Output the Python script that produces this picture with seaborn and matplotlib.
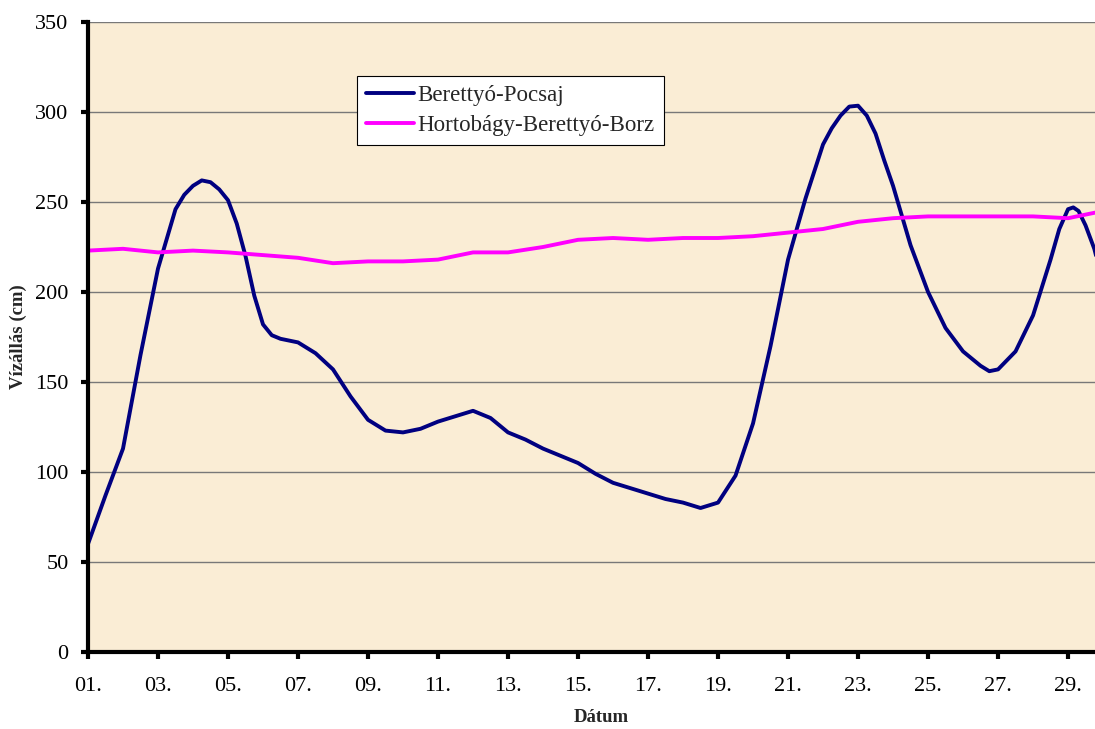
import numpy as np
import pandas as pd
import matplotlib
matplotlib.use("Agg")
import matplotlib.pyplot as plt
import seaborn as sns

# Berettyó-Pocsaj (half-day steps, quarter-day near the peaks)
pocsaj_day = [1.0, 1.5, 2.0, 2.5, 3.0, 3.5, 3.75, 4.0, 4.25, 4.5, 4.75, 5.0, 5.25, 5.5,
              5.75, 6.0, 6.25, 6.5, 7.0, 7.5, 8.0, 8.5, 9.0, 9.5, 10.0, 10.5, 11.0,
              11.5, 12.0, 12.5, 13.0, 13.5, 14.0, 14.5, 15.0, 15.5, 16.0, 16.5, 17.0,
              17.5, 18.0, 18.5, 19.0, 19.5, 20.0, 20.5, 21.0, 21.5, 22.0, 22.25, 22.5,
              22.75, 23.0, 23.25, 23.5, 23.75, 24.0, 24.5, 25.0, 25.5, 26.0, 26.5,
              26.75, 27.0, 27.5, 28.0, 28.5, 28.75, 29.0, 29.15, 29.3, 29.5, 29.75, 30.0]
pocsaj_cm = [60, 87, 113, 165, 213, 246, 254, 259, 262, 261, 257, 251, 238, 220,
             198, 182, 176, 174, 172, 166, 157, 142, 129, 123, 122, 124, 128,
             131, 134, 130, 122, 118, 113, 109, 105, 99, 94, 91, 88,
             85, 83, 80, 83, 98, 127, 170, 218, 252, 282, 291, 298,
             303, 303.5, 298, 288, 273, 259, 226, 200, 180, 167, 159,
             156, 157, 167, 187, 218, 235, 246, 247, 245, 237, 224, 205]

# Hortobágy-Berettyó-Borz, daily
borz_day = list(range(1, 31))
borz_cm = [223, 224, 222, 223, 222, 220.5, 219, 216, 217, 217, 218, 222, 222, 225, 229,
           230, 229, 230, 230, 231, 233, 235, 239, 241, 242, 242, 242, 242, 241, 245]

tick_days = list(range(1, 30, 2))
tick_labels = [f"{d:02d}." for d in tick_days]

df = pd.concat([
    pd.DataFrame({"day": pocsaj_day, "cm": pocsaj_cm, "station": "Berettyó-Pocsaj"}),
    pd.DataFrame({"day": borz_day, "cm": borz_cm, "station": "Hortobágy-Berettyó-Borz"}),
])

sns.set_style("white")
plt.rcParams['font.family'] = ['Liberation Serif', 'DejaVu Serif']

fig = plt.figure(figsize=(10.95, 7.29), dpi=100)
ax = fig.add_axes([88 / 1095, 1 - 652 / 729, 1 - 88 / 1095, 630 / 729])
ax.set_facecolor('#FAEDD5')

sns.lineplot(data=df, x="day", y="cm", hue="station",
             palette={"Berettyó-Pocsaj": "#000080", "Hortobágy-Berettyó-Borz": "#FF00FF"},
             linewidth=2.8, ax=ax, zorder=3)
for line in ax.lines:
    line.set_solid_joinstyle('round')
    line.set_solid_capstyle('round')

ax.set_xlim(1, 29.77)
ax.set_ylim(0, 350)
ax.set_yticks(range(0, 351, 50))
ax.set_xticks(tick_days)
ax.set_xticklabels(tick_labels)
ax.yaxis.grid(True, color='#787878', linewidth=1)
ax.xaxis.grid(False)
ax.set_axisbelow(True)

for side in ['top', 'right']:
    ax.spines[side].set_visible(False)
for side in ['left', 'bottom']:
    ax.spines[side].set_color('black')
    ax.spines[side].set_linewidth(3)
    ax.spines[side].set_zorder(4)

ax.tick_params(axis='both', which='major', direction='out', length=5, width=3,
               color='black', labelsize=16, labelcolor='black', left=True, bottom=True)
ax.tick_params(axis='y', pad=9)
ax.tick_params(axis='x', pad=13)

ax.set_xlabel('Dátum', fontsize=13.5, fontweight='bold')
ax.xaxis.set_label_coords((601 - 88) / 1007, -(718 - 652) / 630)
ax.xaxis.label.set_va('center')
ax.set_ylabel('Vízállás (cm)', fontsize=13.5, fontweight='bold')
ax.yaxis.set_label_coords(-(88 - 18) / 1007, 0.5)
ax.yaxis.label.set_va('center')

leg = ax.legend(loc='upper left', bbox_to_anchor=((357 - 88) / 1007, (652 - 76) / 630),
                borderaxespad=0, frameon=True, fancybox=False, fontsize=16.5,
                handlelength=2.1, handletextpad=0.15, labelspacing=0.38,
                borderpad=0.4, title=None)
leg.get_frame().set_edgecolor('black')
leg.get_frame().set_linewidth(0.8)
leg.get_frame().set_facecolor('white')
leg.get_frame().set_alpha(1)
leg.set_zorder(5)

fig.savefig("out.png", dpi=100)
